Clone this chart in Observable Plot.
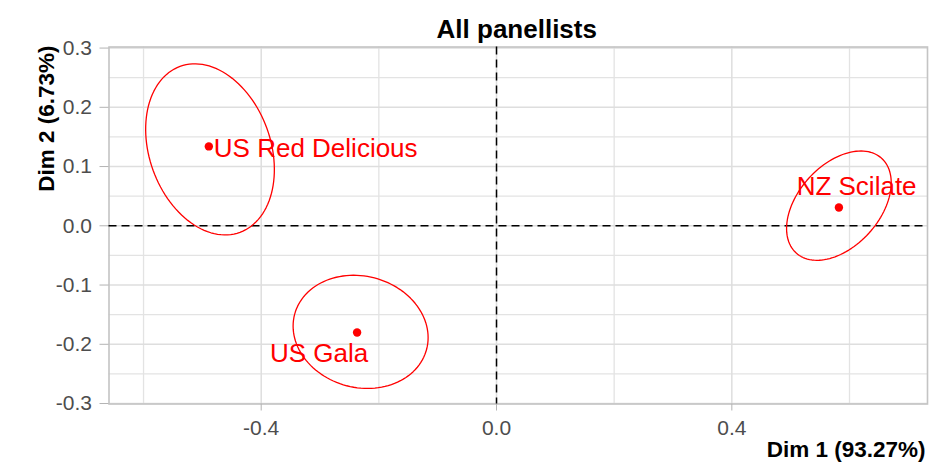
<!DOCTYPE html>
<html>
<head>
<meta charset="utf-8">
<script src="https://cdn.jsdelivr.net/npm/d3@7"></script>
<script src="https://cdn.jsdelivr.net/npm/@observablehq/plot@0.6"></script>
<style>
  html, body { margin: 0; padding: 0; background: #fff; }
  #chart svg { display: block; }
</style>
</head>
<body>
<div id="chart"></div>
<script>
// Products on the first two dimensions, with confidence ellipses
const categories = ["US Red Delicious", "US Gala", "NZ Scilate"];
const dim1 = [-0.489, -0.237, 0.582];
const dim2 = [0.134, -0.180, 0.031];

// Confidence ellipse parameters (centre, semi-axes, rotation in degrees)
const ellipseCx = [-0.487, -0.231, 0.582];
const ellipseCy = [0.129, -0.179, 0.034];
const ellipseA = [0.149, 0.116, 0.108];
const ellipseB = [0.103, 0.094, 0.069];
const ellipseAngle = [110, -14.5, 47.5];

// Axis ticks
const xTicks = [-0.4, 0, 0.4];
const xMinorTicks = [-0.6, -0.2, 0.2, 0.6];
const yTicks = [-0.3, -0.2, -0.1, 0, 0.1, 0.2, 0.3];
const yMinorTicks = [-0.25, -0.15, -0.05, 0.05, 0.15, 0.25];

const titleText = "All panellists";
const xTitle = "Dim 1 (93.27%)";
const yTitle = "Dim 2 (6.73%)";

// Label placement relative to each point (pixels)
const labelPlacement = [
  {dx: 5, dy: 2.6, anchor: "start"},
  {dx: -38, dy: 21.6, anchor: "middle"},
  {dx: 17.7, dy: -20.9, anchor: "middle"}
];

const points = categories.map((name, i) => ({name, x: dim1[i], y: dim2[i]}));

// Trace each ellipse outline
const ellipsePts = [];
categories.forEach((name, i) => {
  const th = ellipseAngle[i] * Math.PI / 180;
  const n = 120;
  for (let k = 0; k <= n; k++) {
    const t = (k / n) * 2 * Math.PI;
    const u = ellipseA[i] * Math.cos(t), v = ellipseB[i] * Math.sin(t);
    ellipsePts.push({
      name,
      x: ellipseCx[i] + u * Math.cos(th) - v * Math.sin(th),
      y: ellipseCy[i] + u * Math.sin(th) + v * Math.cos(th)
    });
  }
});

const red = "#ff0000";
const fmt = d => d.toFixed(1);

const chart = Plot.plot({
  width: 945,
  height: 474,
  marginLeft: 108.5,
  marginRight: 18,
  marginTop: 46.5,
  marginBottom: 70.5,
  style: {fontFamily: "'Liberation Sans', Arial, sans-serif", background: "#fff"},
  x: {domain: [-0.6587, 0.7326]},
  y: {domain: [-0.3008, 0.3018]},
  marks: [
    Plot.ruleX(xMinorTicks, {stroke: "#e3e3e3", strokeWidth: 1.3}),
    Plot.ruleY(yMinorTicks, {stroke: "#e3e3e3", strokeWidth: 1.3}),
    Plot.ruleX(xTicks, {stroke: "#dedede", strokeWidth: 1.5}),
    Plot.ruleY(yTicks, {stroke: "#dedede", strokeWidth: 1.5}),
    Plot.frame({stroke: "#c4c4c4", strokeWidth: 1.6}),
    Plot.axisX(xTicks, {tickSize: 7, tickPadding: 9, tickFormat: fmt, stroke: "#b3b3b3", color: "#4d4d4d", fontSize: 21, label: null}),
    Plot.axisY(yTicks, {tickSize: 9, tickPadding: 8, tickFormat: fmt, stroke: "#b3b3b3", color: "#4d4d4d", fontSize: 21, label: null}),
    Plot.ruleX([0], {stroke: "#000", strokeWidth: 1.5, strokeDasharray: "8,5"}),
    Plot.ruleY([0], {stroke: "#000", strokeWidth: 1.5, strokeDasharray: "8,5"}),
    Plot.line(ellipsePts, {x: "x", y: "y", z: "name", stroke: red, strokeWidth: 1.3, curve: "linear-closed"}),
    Plot.dot(points, {x: "x", y: "y", r: 4.2, fill: red, stroke: "none"}),
    ...categories.map((name, i) => Plot.text(points.filter(d => d.name === name), {
      x: "x", y: "y", text: "name",
      dx: labelPlacement[i].dx, dy: labelPlacement[i].dy,
      textAnchor: labelPlacement[i].anchor,
      fill: red, fontSize: 26
    })),
    Plot.text([titleText], {frameAnchor: "top", text: d => d, dx: -1.5, dy: -27.5, fontSize: 26, fontWeight: "bold", fill: "#000"}),
    Plot.text([xTitle], {frameAnchor: "bottom-right", text: d => d, textAnchor: "end", dx: -2, dy: 52.8, fontSize: 22.5, fontWeight: "bold", fill: "#000"}),
    Plot.text([yTitle], {frameAnchor: "top-left", text: d => d, rotate: -90, textAnchor: "end", dx: -70.5, dy: -1.5, fontSize: 22.5, fontWeight: "bold", fill: "#000"})
  ]
});

document.getElementById("chart").appendChild(chart);
</script>
</body>
</html>
